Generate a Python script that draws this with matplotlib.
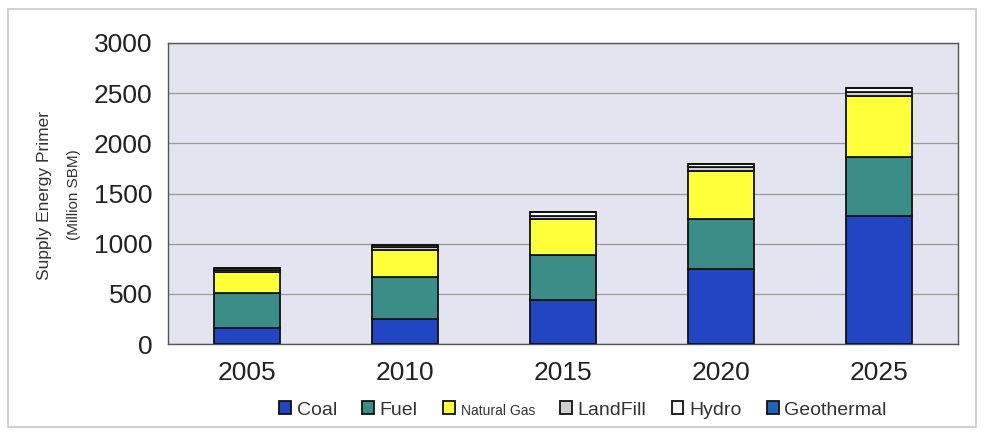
import matplotlib.pyplot as plt
import numpy as np

plt.rcParams['font.family'] = ['Liberation Sans', 'DejaVu Sans']

years = ['2005', '2010', '2015', '2020', '2025']
coal = [160, 250, 440, 750, 1280]
fuel = [350, 420, 450, 500, 585]
natural_gas = [210, 270, 355, 470, 605]
landfill = [20, 25, 35, 40, 40]
hydro = [20, 25, 35, 35, 40]
geothermal = [0, 0, 0, 0, 0]

series = [
    ('Coal', coal, '#2146c4'),
    ('Fuel', fuel, '#3b8e88'),
    ('Natural Gas', natural_gas, '#ffff3a'),
    ('LandFill', landfill, '#cfcfcf'),
    ('Hydro', hydro, '#ffffff'),
    ('Geothermal', geothermal, '#1e64b8'),
]

fig = plt.figure(figsize=(9.84, 4.34), dpi=100)
fig.patch.set_facecolor('white')
# outer frame
fig.patches.append(plt.Rectangle((0.008, 0.015), 0.984, 0.965, transform=fig.transFigure,
                                 fill=False, edgecolor='#c8c8c8', linewidth=1.2))

ax = fig.add_axes([168 / 984, 1 - 344 / 434, 790 / 984, 301 / 434])
ax.set_facecolor('#e4e4f0')

x = np.arange(len(years))
bottom = np.zeros(len(years))
handles = []
for name, vals, col in series:
    b = ax.bar(x, vals, 0.42, bottom=bottom, color=col, edgecolor='#111111', linewidth=1.3,
               label=name, zorder=3)
    handles.append(b)
    bottom += np.array(vals)

ax.set_xlim(-0.5, len(years) - 0.5)
ax.set_ylim(0, 3000)
ax.set_yticks(range(0, 3001, 500))
ax.set_xticks(x)
ax.set_xticklabels(years)
ax.yaxis.grid(True, color='#9a9a9a', linewidth=0.9, zorder=0)
ax.tick_params(axis='both', labelsize=19, length=0, colors='#222222')
ax.tick_params(axis='x', pad=12)
ax.tick_params(axis='y', pad=11)
for s in ax.spines.values():
    s.set_color('#555555')
    s.set_linewidth(1.0)

fig.text(45 / 984, 1 - 195 / 434, 'Supply Energy Primer', rotation=90, ha='center', va='center',
         fontsize=12.5, color='#333333')
fig.text(74 / 984, 1 - 195 / 434, '(Million SBM)', rotation=90, ha='center', va='center',
         fontsize=11, color='#333333')

leg = fig.legend(handles=handles, loc='center', bbox_to_anchor=(583 / 984, 1 - 410 / 434),
                 ncol=6, frameon=False, fontsize=14, handlelength=0.6, handleheight=0.6,
                 handletextpad=0.3, columnspacing=1.3, borderaxespad=0)
for t in leg.get_texts():
    t.set_color('#333333')
    if t.get_text() == 'Natural Gas':
        t.set_fontsize(10)

plt.savefig('out.png')
